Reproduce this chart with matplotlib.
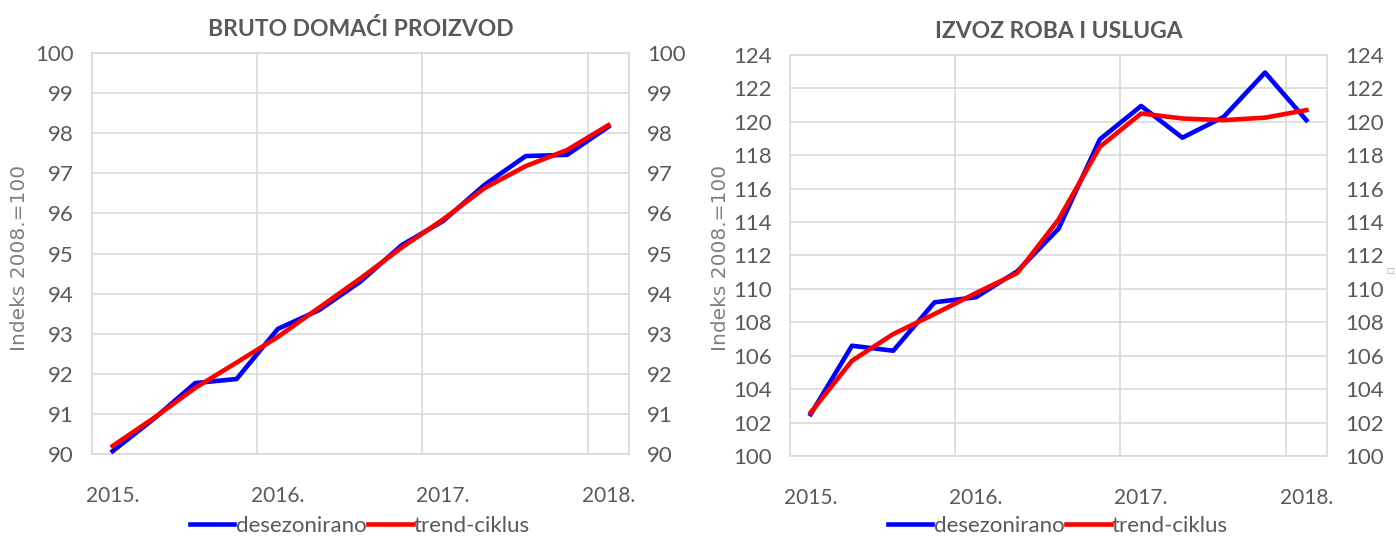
import matplotlib
matplotlib.use("Agg")
import matplotlib.pyplot as plt
import numpy as np

quarters = ["2015Q1", "2015Q2", "2015Q3", "2015Q4", "2016Q1", "2016Q2", "2016Q3",
            "2016Q4", "2017Q1", "2017Q2", "2017Q3", "2017Q4", "2018Q1"]
year_labels = ["2015.", "2016.", "2017.", "2018."]

bdp_desez = [90.07, 90.88, 91.77, 91.87, 93.12, 93.59, 94.30, 95.21, 95.81, 96.71, 97.43, 97.46, 98.16]
bdp_trend = [90.20, 90.90, 91.65, 92.28, 92.92, 93.65, 94.38, 95.15, 95.85, 96.63, 97.18, 97.58, 98.20]

izv_desez = [102.5, 106.6, 106.3, 109.2, 109.5, 111.05, 113.6, 118.95, 120.95, 119.05, 120.3, 122.95, 120.1]
izv_trend = [102.6, 105.7, 107.3, 108.5, 109.75, 110.95, 114.15, 118.5, 120.5, 120.2, 120.1, 120.25, 120.7]

titles = ["BRUTO DOMAĆI PROIZVOD", "IZVOZ ROBA I USLUGA"]
ylabel = "Indeks 2008.=100"
legend_labels = ["desezonirano", "trend-ciklus"]

BLUE = "#0000FF"
RED = "#FF0000"
GRID = "#d9d9d9"
TXT = "#595959"
NARROW = ["Lato", "DejaVu Sans"]

fig = plt.figure(figsize=(13.96, 5.36), dpi=100)

panels = [
    dict(rect=[92/1396, (536-454)/536, (629-92)/1396, (454-53)/536],
         d=bdp_desez, t=bdp_trend, ylim=(90, 100), step=1, title=titles[0],
         ylab_x=20/1396, leg_x=360/1396),
    dict(rect=[790/1396, (536-456)/536, (1327-790)/1396, (456-55)/536],
         d=izv_desez, t=izv_trend, ylim=(100, 124), step=2, title=titles[1],
         ylab_x=720/1396, leg_x=1058/1396),
]

x = np.arange(len(quarters))
for p in panels:
    ax = fig.add_axes(p["rect"])
    l1, = ax.plot(x, p["d"], color=BLUE, lw=3.3, zorder=3)
    l2, = ax.plot(x, p["t"], color=RED, lw=3.3, zorder=4)
    ax.set_xlim(-0.5, len(quarters) - 0.5)
    ax.set_ylim(*p["ylim"])
    ax.set_yticks(np.arange(p["ylim"][0], p["ylim"][1] + 0.1, p["step"]))
    ax.set_xticks([0, 4, 8, 12])
    ax.set_xticklabels(year_labels)
    ax.set_xticks([3.5, 7.5, 11.5], minor=True)
    ax.grid(False)
    ax.yaxis.grid(True, color=GRID, lw=1.2, zorder=0)
    ax.xaxis.grid(True, which="minor", color=GRID, lw=1.2, zorder=0)
    for s in ax.spines.values():
        s.set_color(GRID)
        s.set_linewidth(1.2)
    ax.tick_params(axis="both", which="both", length=0, colors=TXT)
    ax.tick_params(axis="y", labelleft=True, labelright=True, pad=13, labelsize=16)
    ax.tick_params(axis="x", pad=23, labelsize=15)
    for lab in ax.get_xticklabels() + ax.get_yticklabels():
        lab.set_family(NARROW)
    ax.set_title(p["title"], fontsize=16.5, fontweight="bold", color=TXT,
                 family=NARROW, pad=12)
    fig.text(p["ylab_x"], (536-258)/536, ylabel, rotation=90, ha="center", va="center",
             fontsize=14.5, color="#808080", family=["DejaVu Sans"])
    fig.legend([l1, l2], legend_labels, loc="center", bbox_to_anchor=(p["leg_x"], 10/536),
               ncol=2, frameon=False, handlelength=2.0, handletextpad=0.05,
               columnspacing=0.1, prop=dict(family=NARROW, size=16),
               labelcolor=TXT)

fig.text(1390/1396, (536-270)/536, "□", fontsize=6, color="#a0a0a0", ha="center", va="center")

fig.savefig("out.png", dpi=100)
